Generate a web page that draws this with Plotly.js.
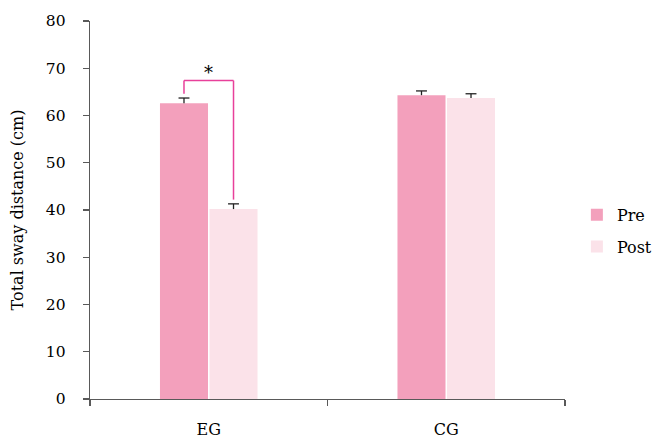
<!DOCTYPE html>
<html><head><meta charset="utf-8">
<script src="https://cdn.plot.ly/plotly-3.0.1.min.js"></script>
<style>html,body{margin:0;padding:0;background:#fff}#chart{width:654px;height:441px}</style>
</head><body><div id="chart"></div>
<script>
const groups = ['EG', 'CG'];
const preValues = [62.6, 64.3];
const postValues = [40.2, 63.7];
const preErrors = [1.1, 0.9];
const postErrors = [1.1, 0.9];
const yTicks = [0, 10, 20, 30, 40, 50, 60, 70, 80];
const sigLabel = '*';

const fam = 'DejaVu Serif, serif';
const tickFont = {family: fam, size: 15.5, color: '#000'};
const xFont = {family: fam, size: 16, color: '#000'};
const bargap = 0.583, bargroupgap = 0.03;
const half = (1 - bargap) / 4;
const capW = 0.023;

const traces = [
  {type: 'bar', name: 'Pre', x: groups, y: preValues, legendgroup: 'a', marker: {color: '#f3a0bc'}},
  {type: 'bar', name: 'Post', x: groups, y: postValues, legendgroup: 'b', marker: {color: '#fbe2e9'}}
];

const shapes = [];
function addErr(vals, errs, off) {
  vals.forEach((v, k) => {
    const c = k + off, t = v + errs[k];
    shapes.push({type: 'line', xref: 'x', yref: 'y', x0: c, x1: c, y0: v, y1: t, line: {color: '#222', width: 1.3}});
    shapes.push({type: 'line', xref: 'x', yref: 'y', x0: c - capW, x1: c + capW, y0: t, y1: t, line: {color: '#222', width: 1.3}});
  });
}
addErr(preValues, preErrors, -half);
addErr(postValues, postErrors, half);

const i = 0;
const topPre = preValues[i] + preErrors[i] + 0.9;
const topPost = postValues[i] + postErrors[i] + 0.9;
const bracketY = Math.max(topPre, topPost) + 2.8;
const col = '#e8409a';
shapes.push(
  {type: 'line', xref: 'x', yref: 'y', x0: i - half, x1: i - half, y0: topPre, y1: bracketY, line: {color: col, width: 1.5}},
  {type: 'line', xref: 'x', yref: 'y', x0: i - half, x1: i + half, y0: bracketY, y1: bracketY, line: {color: col, width: 1.5}},
  {type: 'line', xref: 'x', yref: 'y', x0: i + half, x1: i + half, y0: bracketY, y1: topPost, line: {color: col, width: 1.5}}
);
const annotations = [
  {xref: 'x', yref: 'y', x: i, y: bracketY, text: sigLabel, showarrow: false, yanchor: 'bottom', yshift: -4,
   font: {family: fam, size: 18, color: '#000'}}
];

const layout = {
  width: 654, height: 441,
  margin: {l: 90, r: 89, t: 21, b: 42, autoexpand: false},
  paper_bgcolor: '#fff', plot_bgcolor: '#fff',
  font: tickFont,
  barmode: 'group', bargap: bargap, bargroupgap: bargroupgap,
  showlegend: true,
  legend: {x: 1.025, xanchor: 'left', y: 0.445, yanchor: 'middle', font: {family: fam, size: 16, color: '#000'},
           tracegroupgap: 8, itemwidth: 30, traceorder: 'grouped'},
  xaxis: {type: 'category', showline: true, linecolor: '#595959', linewidth: 1.3,
          ticks: 'outside', tickson: 'boundaries', ticklen: 6, tickcolor: '#595959', tickwidth: 1.3,
          showgrid: false, zeroline: false, ticklabelstandoff: 15, tickfont: xFont},
  yaxis: {range: [0, 80], tickvals: yTicks, showline: true, linecolor: '#595959', linewidth: 1.3,
          ticks: 'outside', ticklen: 6, tickcolor: '#595959', tickwidth: 1.3,
          showgrid: false, zeroline: false, ticklabelstandoff: 14, tickfont: tickFont,
          title: {text: 'Total sway distance (cm)', font: {family: fam, size: 16, color: '#000'}, standoff: 18}},
  shapes: shapes, annotations: annotations
};
Plotly.newPlot('chart', traces, layout, {displayModeBar: false, staticPlot: true});
</script></body></html>
